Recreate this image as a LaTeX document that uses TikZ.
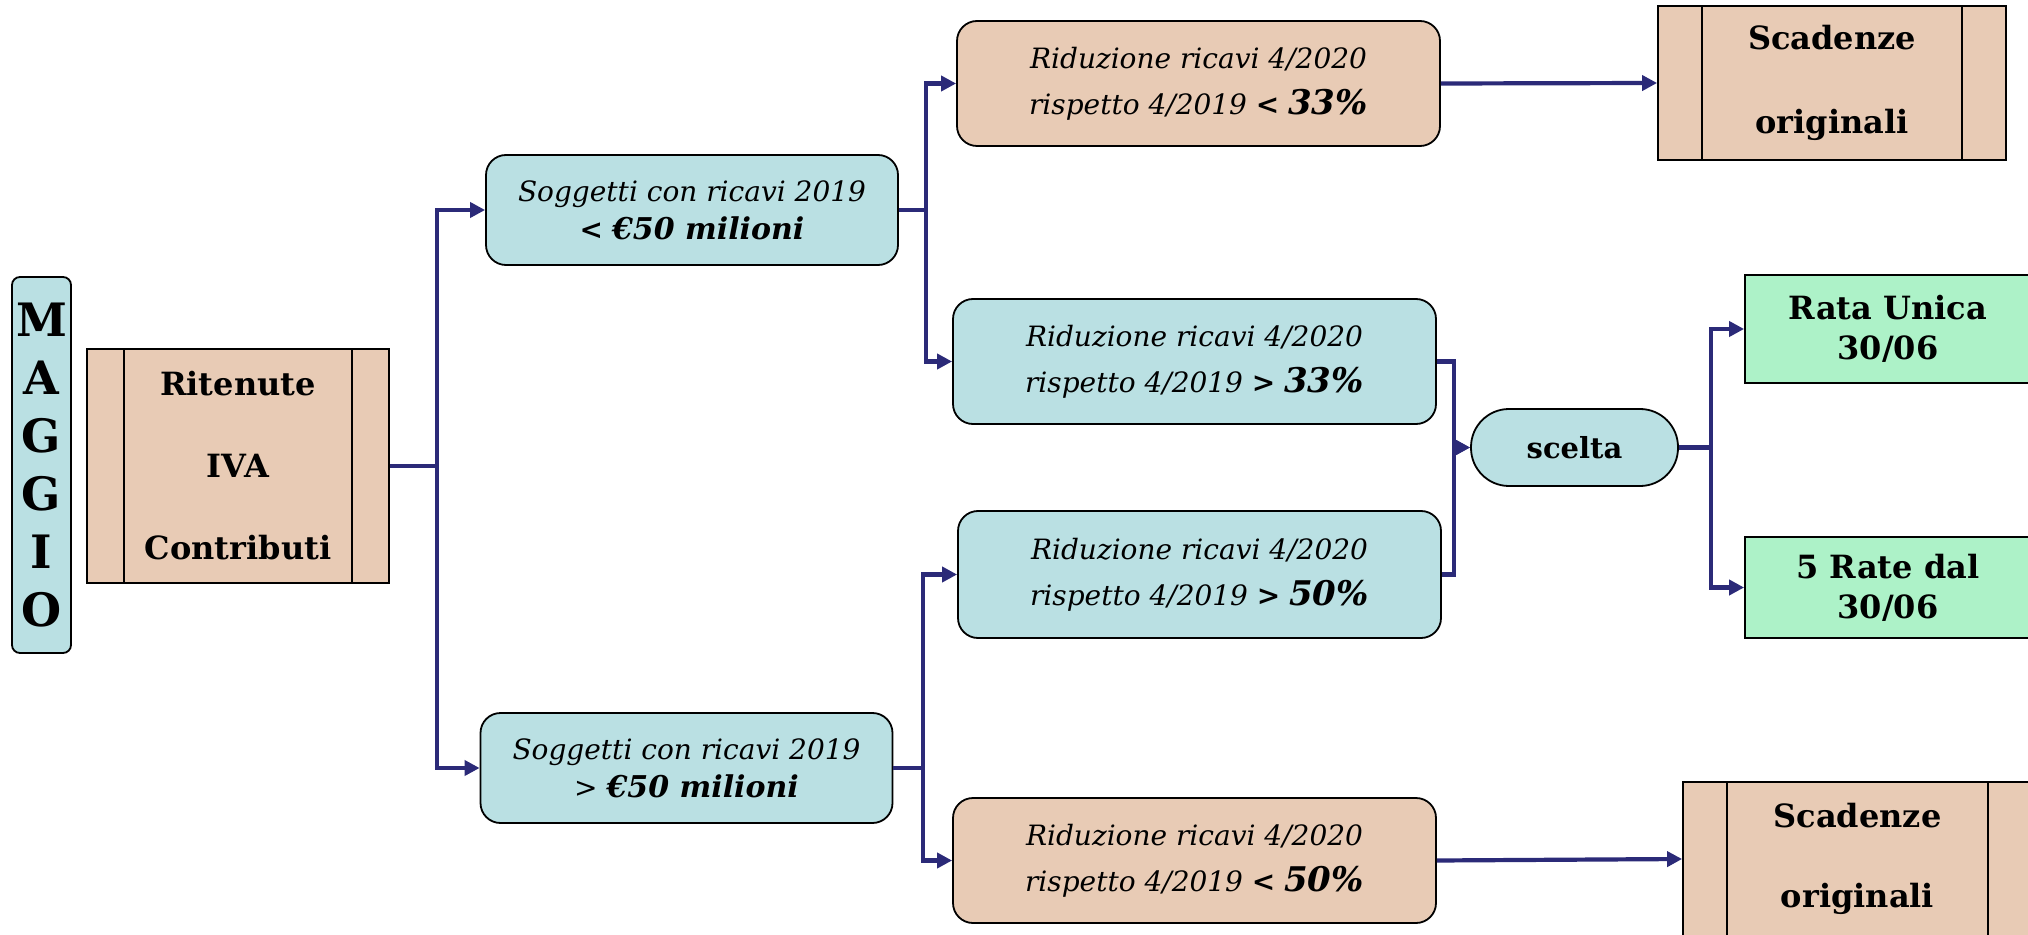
\documentclass[tikz,border=0pt]{standalone}
\usepackage{fontspec}
\setmainfont{DejaVu Serif}
\usetikzlibrary{arrows.meta}

\definecolor{boxblue}{HTML}{BAE0E3}
\definecolor{boxtan}{HTML}{E8CBB5}
\definecolor{boxgreen}{HTML}{ADF2C8}
\definecolor{linkblue}{HTML}{2B2A78}

\tikzset{
  base/.style={draw=black, line width=0.9pt, align=center, inner sep=0pt},
  bluebox/.style={base, fill=boxblue, rounded corners=10pt,
    minimum width=206pt, minimum height=55pt, font=\fontsize{14}{19}\selectfont},
  ridbox/.style={base, rounded corners=10pt, minimum width=241.5pt,
    minimum height=62.5pt, font=\fontsize{14}{23}\selectfont},
  procbox/.style={base, fill=boxtan, font=\bfseries\fontsize{16}{41}\selectfont,
    path picture={
      \draw[line width=0.9pt]
        ([xshift=#1]path picture bounding box.north west) -- ([xshift=#1]path picture bounding box.south west)
        ([xshift=-#1]path picture bounding box.north east) -- ([xshift=-#1]path picture bounding box.south east);
    }},
  greenbox/.style={base, fill=boxgreen, minimum width=143pt,
    font=\bfseries\fontsize{16}{20}\selectfont},
  link/.style={draw=linkblue, line width=2.1pt, -{Triangle[length=7.5pt,width=7.5pt]}},
}

\begin{document}
\begin{tikzpicture}[x=0.5pt, y=-0.5pt]

\useasboundingbox (0,0) rectangle (2028,935);

% left column
\node[base, fill=boxblue, rounded corners=4pt, minimum width=29.5pt, minimum height=188pt,
  font=\bfseries\fontsize{23}{29}\selectfont] (maggio) at (41.5,465) {M\\A\\G\\G\\I\\O};
\node[procbox=18.5pt, minimum width=151pt, minimum height=117pt] (ritenute) at (238,466)
  {Ritenute\\IVA\\Contributi};

% soggetti
\node[bluebox] (sogA) at (692,210)
  {\textit{Soggetti con ricavi 2019}\\\textbf{<} {\bfseries\itshape\fontsize{15}{19}\selectfont €50 milioni}};
\node[bluebox] (sogB) at (686.5,768)
  {\textit{Soggetti con ricavi 2019}\\> {\bfseries\itshape\fontsize{15}{19}\selectfont €50 milioni}};

% riduzione ricavi
\node[ridbox, fill=boxtan] (ridA) at (1198.5,83.5)
  {\textit{Riduzione ricavi 4/2020}\\\textit{rispetto 4/2019} \textbf{<} {\bfseries\itshape\fontsize{17}{23}\selectfont 33\%}};
\node[ridbox, fill=boxblue] (ridB) at (1194.5,361.5)
  {\textit{Riduzione ricavi 4/2020}\\\textit{rispetto 4/2019} \textbf{>} {\bfseries\itshape\fontsize{17}{23}\selectfont 33\%}};
\node[ridbox, fill=boxblue, minimum height=63.5pt] (ridC) at (1199.5,574.5)
  {\textit{Riduzione ricavi 4/2020}\\\textit{rispetto 4/2019} \textbf{>} {\bfseries\itshape\fontsize{17}{23}\selectfont 50\%}};
\node[ridbox, fill=boxtan] (ridD) at (1194.5,860.5)
  {\textit{Riduzione ricavi 4/2020}\\\textit{rispetto 4/2019} \textbf{<} {\bfseries\itshape\fontsize{17}{23}\selectfont 50\%}};

% esiti
\node[procbox=22pt, minimum width=174pt, minimum height=77pt, font=\bfseries\fontsize{16}{42}\selectfont]
  (scadA) at (1832,83) {Scadenze\\originali};
\node[procbox=22pt, minimum width=174.5pt, minimum height=77pt, font=\bfseries\fontsize{16}{40}\selectfont]
  (scadB) at (1857.5,859) {Scadenze\\originali};
\node[base, fill=boxblue, rounded corners=19pt, minimum width=103.5pt, minimum height=38.5pt,
  font=\bfseries\fontsize{14.5}{17}\selectfont] (scelta) at (1574.5,447.5) {scelta};
\node[greenbox, minimum height=54pt] (rataA) at (1888,329) {Rata Unica\\30/06};
\node[greenbox, minimum height=50.5pt] (rataB) at (1888,587.5) {5 Rate dal\\30/06};

% junctions
\coordinate (j1) at (437,466);
\coordinate (j2) at (926,210);
\coordinate (j3) at (923,768);
\coordinate (j4) at (1454,447.5);
\coordinate (j5) at (1711,447.5);

% connectors
\draw[link] (ritenute.east) -- (j1) |- (sogA.west);
\draw[link] (j1) |- (sogB.west);
\draw[link] (sogA.east) -- (j2) |- (ridA.west);
\draw[link] (j2) |- (ridB.west);
\draw[link] (sogB.east) -- (j3) |- (ridC.west);
\draw[link] (j3) |- (ridD.west);
\draw[link] (ridA.east) -- (scadA.west);
\draw[link] (ridD.east) -- (scadB.west);
\draw[link] (ridB.east) -| (j4) -- (scelta.west);
\draw[link] (ridC.east) -| (j4) -- (scelta.west);
\draw[link] (scelta.east) -- (j5) |- (rataA.west);
\draw[link] (j5) |- (rataB.west);

\end{tikzpicture}
\end{document}
